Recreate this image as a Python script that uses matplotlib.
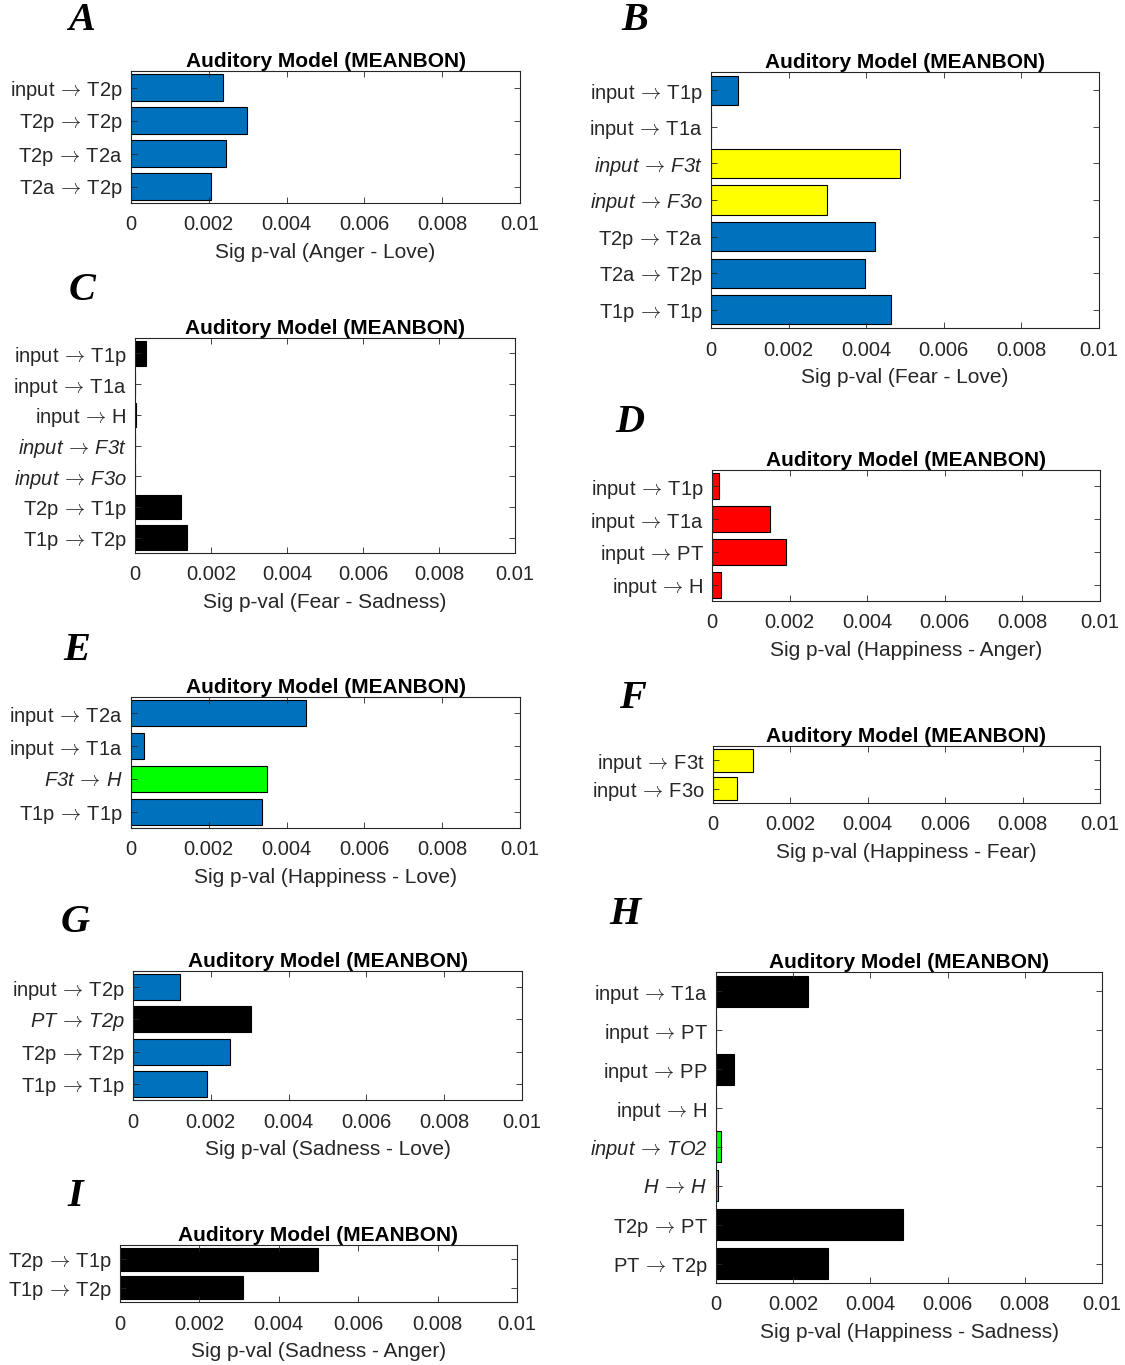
import matplotlib.pyplot as plt

plt.rcParams['font.family'] = ['Liberation Sans', 'DejaVu Sans']
plt.rcParams['mathtext.fontset'] = 'cm'

BLUE = '#0072BD'
YELLOW = '#FFFF00'
RED = '#FF0000'
GREEN = '#00FF00'
BLACK = '#000000'

TITLE = 'Auditory Model (MEANBON)'
XTICKS = [0, 0.002, 0.004, 0.006, 0.008, 0.01]
XTICKLABELS = ['0', '0.002', '0.004', '0.006', '0.008', '0.01']

# A: Anger - Love
a_labels = ['input → T2p', 'T2p → T2p', 'T2p → T2a', 'T2a → T2p']
a_values = [0.00237, 0.00298, 0.00245, 0.00205]
a_colors = [BLUE, BLUE, BLUE, BLUE]
a_italic = [False, False, False, False]

# B: Fear - Love
b_labels = ['input → T1p', 'input → T1a', 'input → F3t', 'input → F3o',
            'T2p → T2a', 'T2a → T2p', 'T1p → T1p']
b_values = [0.0007, 0.0, 0.00488, 0.00299, 0.00422, 0.00396, 0.00463]
b_colors = [BLUE, BLUE, YELLOW, YELLOW, BLUE, BLUE, BLUE]
b_italic = [False, False, True, True, False, False, False]

# C: Fear - Sadness
c_labels = ['input → T1p', 'input → T1a', 'input → H', 'input → F3t',
            'input → F3o', 'T2p → T1p', 'T1p → T2p']
c_values = [0.00029, 0.0, 0.00003, 0.0, 0.0, 0.00122, 0.00136]
c_colors = [BLACK] * 7
c_italic = [False, False, False, True, True, False, False]

# D: Happiness - Anger
d_labels = ['input → T1p', 'input → T1a', 'input → PT', 'input → H']
d_values = [0.00018, 0.0015, 0.00192, 0.00023]
d_colors = [RED] * 4
d_italic = [False] * 4

# E: Happiness - Love
e_labels = ['input → T2a', 'input → T1a', 'F3t → H', 'T1p → T1p']
e_values = [0.00451, 0.00034, 0.00349, 0.00337]
e_colors = [BLUE, BLUE, GREEN, BLUE]
e_italic = [False, False, True, False]

# F: Happiness - Fear
f_labels = ['input → F3t', 'input → F3o']
f_values = [0.00104, 0.00062]
f_colors = [YELLOW, YELLOW]
f_italic = [False, False]

# G: Sadness - Love
g_labels = ['input → T2p', 'PT → T2p', 'T2p → T2p', 'T1p → T1p']
g_values = [0.00121, 0.00303, 0.0025, 0.0019]
g_colors = [BLUE, BLACK, BLUE, BLUE]
g_italic = [False, True, False, False]

# H: Happiness - Sadness
h_labels = ['input → T1a', 'input → PT', 'input → PP', 'input → H',
            'input → TO2', 'H → H', 'T2p → PT', 'PT → T2p']
h_values = [0.00238, 0.0, 0.00046, 0.0, 0.00014, 0.00004, 0.00485, 0.00291]
h_colors = [BLACK, BLACK, BLACK, BLACK, GREEN, GREEN, BLACK, BLACK]
h_italic = [False, False, False, False, True, True, False, False]

# I: Sadness - Anger
i_labels = ['T2p → T1p', 'T1p → T2p']
i_values = [0.00499, 0.00311]
i_colors = [BLACK, BLACK]
i_italic = [False, False]

W, H = 1125, 1365
fig = plt.figure(figsize=(W / 100, H / 100), dpi=100)


def panel(letter, lpos, box, labels, values, colors, italic, xlabel):
    l, t, r, b = box
    ax = fig.add_axes([l / W, 1 - b / H, (r - l) / W, (b - t) / H])
    y = list(range(len(values)))
    ax.barh(y, values, height=0.8, color=colors, edgecolor='k', linewidth=0.8)
    ax.set_xlim(0, 0.01)
    ax.set_ylim(len(values) - 0.5, -0.5)
    ax.set_xticks(XTICKS)
    ax.set_xticklabels(XTICKLABELS)
    ax.set_yticks(y)
    # TeX-style arrow between source and target
    ax.set_yticklabels([s.replace(' → ', r'$\,\rightarrow\,$') for s in labels])
    for tl, it in zip(ax.get_yticklabels(), italic):
        tl.set_fontstyle('italic' if it else 'normal')
    ax.tick_params(direction='in', top=True, right=True, length=4, width=0.6,
                   color='0.15', labelcolor='0.15', labelsize=14.5)
    ax.tick_params(axis='x', pad=9)
    ax.tick_params(axis='y', pad=6)
    for s in ax.spines.values():
        s.set_color('0.15')
        s.set_linewidth(0.8)
    ax.set_title(TITLE, fontsize=15, fontweight='bold', pad=3)
    ax.set_xlabel(xlabel, fontsize=15, color='0.15', labelpad=6)
    fig.text(lpos[0] / W, 1 - lpos[1] / H, letter, family='Liberation Serif',
             fontsize=29, fontweight='bold', fontstyle='italic',
             ha='center', va='center')
    return ax


panel('A', (82, 20), (131, 71, 520, 203), a_labels, a_values, a_colors, a_italic,
      'Sig p-val (Anger - Love)')
panel('B', (635, 20), (711, 72, 1099, 328), b_labels, b_values, b_colors, b_italic,
      'Sig p-val (Fear - Love)')
panel('C', (82, 291), (135, 338, 515, 553), c_labels, c_values, c_colors, c_italic,
      'Sig p-val (Fear - Sadness)')
panel('D', (630, 422), (712, 470, 1100, 601), d_labels, d_values, d_colors, d_italic,
      'Sig p-val (Happiness - Anger)')
panel('E', (77, 650), (131, 697, 520, 828), e_labels, e_values, e_colors, e_italic,
      'Sig p-val (Happiness - Love)')
panel('F', (632, 698), (713, 746, 1100, 803), f_labels, f_values, f_colors, f_italic,
      'Sig p-val (Happiness - Fear)')
panel('G', (75, 923), (133, 971, 522, 1100), g_labels, g_values, g_colors, g_italic,
      'Sig p-val (Sadness - Love)')
panel('H', (625, 915), (716, 972, 1102, 1283), h_labels, h_values, h_colors, h_italic,
      'Sig p-val (Happiness - Sadness)')
panel('I', (75, 1197), (120, 1245, 517, 1302), i_labels, i_values, i_colors, i_italic,
      'Sig p-val (Sadness - Anger)')

fig.savefig('out.png', dpi=100, facecolor='white')
